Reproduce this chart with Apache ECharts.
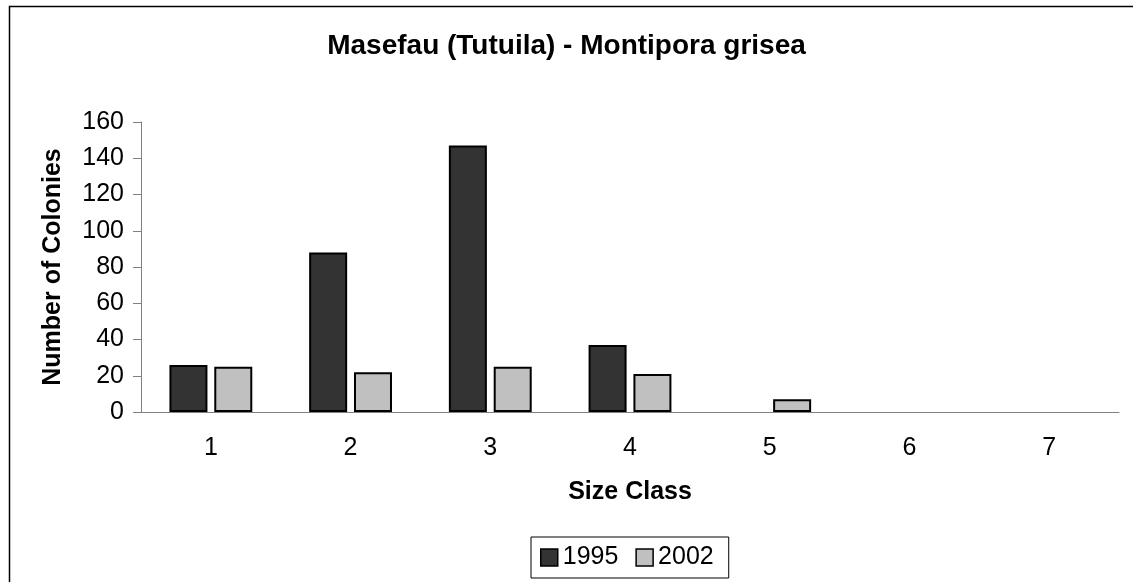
<!DOCTYPE html>
<html lang="en">
<head>
    <meta charset="UTF-8">
    <title>Masefau (Tutuila) - Montipora grisea</title>
    <script src="https://cdn.jsdelivr.net/npm/echarts@6/dist/echarts.min.js"></script>
    <style>
        html, body { margin: 0; padding: 0; background: #fff; }
    </style>
</head>
<body>
<div id="main" style="width: 1133px;height:582px;"></div>
<script type="text/javascript">

    var sizeClass = ['1', '2', '3', '4', '5', '6', '7'];
    var colonies1995 = [26, 88, 147, 37, 0, 0, 0];
    var colonies2002 = [25, 22, 25, 21, 7, 0, 0];
    var yTicks = [0, 20, 40, 60, 80, 100, 120, 140, 160];

    var font = 'Liberation Sans, Arial, sans-serif';

    // zero bars: no outline, like the original
    function barData(values) {
        return values.map(function (v) {
            return v === 0 ? {value: v, itemStyle: {borderWidth: 0, opacity: 0}} : v;
        });
    }

    var myChart = echarts.init(document.getElementById('main'));

    var option = {
        backgroundColor: '#fff',
        animation: false,
        title: {
            text: 'Masefau (Tutuila) - Montipora grisea',
            left: 'center',
            top: 27,
            textStyle: {fontFamily: font, fontSize: 28, fontWeight: 'bold', color: '#000'}
        },
        graphic: [{
            type: 'rect',
            shape: {x: 9.5, y: 6.5, width: 1300, height: 800},
            style: {fill: null, stroke: '#000', lineWidth: 1.5},
            silent: true
        }],
        legend: {
            data: ['1995', '2002'],
            left: 531,
            top: 537,
            icon: 'rect',
            itemWidth: 17,
            itemHeight: 17,
            itemGap: 17,
            padding: [8, 15, 8, 9],
            borderColor: '#000',
            borderWidth: 1,
            textStyle: {fontFamily: font, fontSize: 25, color: '#000'},
            itemStyle: {borderColor: '#000', borderWidth: 1.5}
        },
        grid: {left: 141, right: 14, top: 122, bottom: 170},
        xAxis: {
            type: 'category',
            data: sizeClass,
            name: 'Size Class',
            nameLocation: 'middle',
            nameGap: 68,
            nameTextStyle: {fontFamily: font, fontSize: 25, fontWeight: 'bold', color: '#000'},
            axisLine: {lineStyle: {color: '#808080', width: 1}},
            axisTick: {show: false},
            axisLabel: {fontFamily: font, fontSize: 25, color: '#000', margin: 24}
        },
        yAxis: {
            type: 'value',
            min: yTicks[0],
            max: yTicks[yTicks.length - 1],
            interval: 20,
            name: 'Number of Colonies',
            nameLocation: 'middle',
            nameGap: 75,
            nameTextStyle: {fontFamily: font, fontSize: 25, fontWeight: 'bold', color: '#000'},
            axisLine: {show: true, lineStyle: {color: '#808080', width: 1}},
            axisTick: {show: true, length: 8, lineStyle: {color: '#808080'}},
            axisLabel: {fontFamily: font, fontSize: 25, color: '#000', margin: 17},
            splitLine: {show: false}
        },
        series: [{
            name: '1995',
            type: 'bar',
            data: barData(colonies1995),
            barWidth: 38,
            barGap: '18%',
            itemStyle: {color: '#333333', borderColor: '#000', borderWidth: 2}
        }, {
            name: '2002',
            type: 'bar',
            data: barData(colonies2002),
            barWidth: 38,
            barGap: '18%',
            itemStyle: {color: '#c0c0c0', borderColor: '#000', borderWidth: 2}
        }]
    };

    myChart.setOption(option);

</script>
</body>
</html>
